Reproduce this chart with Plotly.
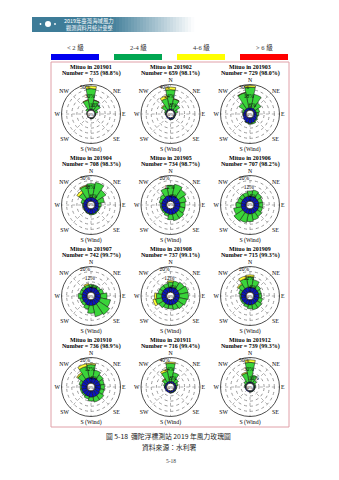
import plotly.graph_objects as go

W, H = 339, 480

# ---------------- data ----------------
dir_theta = [0, 22.5, 45, 67.5, 90, 112.5, 135, 157.5, 180, 202.5, 225, 247.5, 270, 292.5, 315, 337.5]
dir_names = ["N", "NNE", "NE", "ENE", "E", "ESE", "SE", "SSE", "S", "SSW", "SW", "WSW", "W", "WNW", "NW", "NNW"]
compass_ticks = ["N", "NE", "E", "SE", "S (Wind)", "SW", "W", "NW"]

months = ["201901", "201902", "201903", "201904", "201905", "201906",
          "201907", "201908", "201909", "201910", "201911", "201912"]
counts = [735, 659, 729, 708, 734, 707, 742, 737, 715, 736, 716, 739]
valid_pct = [98.8, 98.1, 98.0, 98.3, 98.7, 98.2, 99.7, 99.1, 99.3, 98.9, 99.4, 99.3]
radial_max = [50, 40, 30, 30, 20, 20, 20, 20, 20, 20, 40, 50]
calm_pct = [0, 0, 0, 0, 0, 0, 0, 0, 0, 0, 0, 0]

class_names = ["< 2 級", "2-4 級", "4-6 級", "> 6 級"]
legend_colors = ["#0000f0", "#00a651", "#ffff00", "#ff0000"]
rose_colors = ["#0a14c0", "#3ad43a", "#ffff33", "#ff0000"]

# frequency (%) per direction (N, NNE, ... NNW) for each month
speed_lt2 = [
    [2, 2, 1.5, 1, 1, 1, 1, 1.5, 1.5, 1, 0.5, 0.5, 0.5, 0.5, 1, 2],
    [2, 2, 1.5, 1.5, 1.5, 1.5, 2, 2.5, 2.5, 2, 1.5, 1.5, 1.5, 1.5, 2, 2],
    [3, 3, 3, 3, 3.5, 4, 5, 6, 6.5, 6, 5, 4, 3.5, 3, 3, 3],
    [4.5, 4.5, 4.5, 4.5, 4.5, 5, 5.5, 6, 6, 5.5, 5, 4.5, 4.5, 4.5, 4.5, 4.5],
    [4.5, 4.5, 4.5, 4.5, 4.5, 4.5, 4.5, 4.5, 4.5, 4, 4, 4, 4, 4, 4, 4.5],
    [4, 4, 4, 4, 4, 4, 4, 4, 4, 4, 4, 4, 4, 4, 4, 4],
    [4, 4, 4, 4, 4.5, 4.5, 4.5, 4.5, 4.5, 4.5, 4, 4, 4, 4, 4, 4],
    [4, 4, 4, 4, 4, 4, 4, 4, 4, 4, 4, 4, 4, 4, 4, 4],
    [4, 4, 4, 4, 4, 4, 4, 4, 4, 4, 4, 4, 4, 4, 4, 4],
    [4.5, 4.5, 4.5, 4.5, 4.5, 4.5, 5, 5, 5, 4.5, 4.5, 4.5, 4.5, 4.5, 4.5, 4.5],
    [3, 3, 3, 3, 3, 3, 3, 3, 3, 3, 3, 3, 3, 3, 3, 3],
    [2.5, 2.5, 2.5, 2, 2, 2, 2, 2, 2, 2, 2, 2, 2, 2, 2, 2.5],
]
speed_2to4 = [
    [40, 18, 13, 5, 1, 0.5, 0.5, 0.5, 0.5, 0, 0, 0, 0, 0.5, 4, 18],
    [30, 16, 10, 4, 1, 0.5, 0.5, 0.5, 0.5, 0, 0, 0, 0.5, 2, 8, 17],
    [24, 16, 8, 4, 2, 1, 1, 1.5, 1, 0.5, 0, 0, 0.5, 2, 8, 18],
    [16, 18, 12, 7, 3, 1.5, 1, 1, 1, 0.5, 0.5, 0.5, 1, 3, 8, 14],
    [8, 9, 7, 5, 4, 4, 5, 5, 4, 2, 1, 1, 1, 2, 3, 6],
    [4, 5, 4, 3, 3, 3, 4, 5, 6, 7, 8, 6, 4, 3, 3, 3],
    [2, 2, 2, 3, 5, 8, 10, 9, 6, 3, 2, 2, 3, 2, 2, 2],
    [4, 5, 6, 7, 7, 6, 5, 4, 3, 3, 4, 5, 4, 3, 3, 3],
    [8, 6, 3, 2, 2, 3, 4, 4, 3, 2, 1, 1, 1, 2, 4, 7],
    [10, 6, 4, 3, 3, 3, 4, 4, 3, 2, 1, 1, 1, 2, 5, 9],
    [28, 14, 6, 3, 1, 0.5, 0.5, 0.5, 0.5, 0, 0, 0, 0.5, 2, 6, 16],
    [38, 14, 6, 2, 1, 0.5, 0.5, 0.5, 0.5, 0, 0, 0, 0.5, 1.5, 5, 18],
]
speed_4to6 = [
    [5, 0.5, 0, 0, 0, 0, 0, 0, 0, 0, 0, 0, 0, 0, 0, 1],
    [4, 0.5, 0, 0, 0, 0, 0, 0, 0, 0, 0, 0, 0, 0, 1.5, 4],
    [2, 0, 0, 0, 0, 0, 0, 0, 0, 0, 0, 0, 0, 0, 0, 0.5],
    [0, 0, 0, 0, 0, 0, 0, 0, 0, 0, 0, 0, 0, 0, 3, 1],
    [0, 0, 0, 0, 0, 0, 0, 0, 0, 0, 0, 0, 0, 0, 0, 0],
    [0, 0, 0, 0, 0, 0, 0, 0, 0, 0, 0, 0, 0, 0, 0, 0],
    [0, 0, 0, 0, 0, 0, 0, 0, 0, 0, 0, 0, 0, 0, 0, 1],
    [1, 0, 0, 0, 0, 0, 0, 0, 0, 0, 0, 2, 1.5, 0, 0, 0],
    [1.5, 0, 0, 0, 0, 0, 0, 0, 0, 0, 0, 0, 0, 0, 1, 2],
    [1, 0, 0, 0, 0, 0, 0, 0, 0, 0, 0, 0, 0, 0, 1, 2],
    [2, 0, 0, 0, 0, 0, 0, 0, 0, 0, 0, 0, 0, 0, 1, 3],
    [5, 0, 0, 0, 0, 0, 0, 0, 0, 0, 0, 0, 0, 0, 0, 2],
]
speed_gt6 = [[0] * 16 for _ in range(12)]

speed_classes = [speed_lt2, speed_2to4, speed_4to6, speed_gt6]

station_name = "Mituo"
caption = "圖 5-18  彌陀浮標測站 2019 年風力玫瑰圖"
source = "資料來源：水利署"
page_no = "5-18"
banner_lines = ["2019年臺灣海域風力", "觀測資料月統計彙整"]

# ---------------- layout helpers ----------------
def px(x):
    return x / W


def py(y):
    return 1 - y / H


SERIF = "Liberation Serif, Noto Sans CJK TC, serif"
CJK = "Noto Sans CJK TC, sans-serif"

col_cx = [91, 170.5, 250]
row_cy = [114, 205, 296, 387]
R = 29.5
HOLE = 0.13
RAD_ANGLE = 118

fig = go.Figure()
shapes = []
annotations = []


def note(x, y, text, size, color="black", family=SERIF, xanchor="center"):
    annotations.append(dict(x=px(x), y=py(y), xref="paper", yref="paper",
                            xanchor=xanchor, yanchor="middle", text=text, showarrow=False,
                            font=dict(family=family, size=size, color=color)))


for i, m in enumerate(months):
    r_i, c_i = divmod(i, 3)
    cx, cy = col_cx[c_i], row_cy[r_i]
    pname = "polar" if i == 0 else f"polar{i + 1}"
    for k, cls in enumerate(speed_classes):
        vals = cls[i]
        if not any(v > 0 for v in vals):
            continue
        fig.add_trace(go.Barpolar(
            r=vals, theta=dir_theta, width=[22.5] * 16,
            marker=dict(color=rose_colors[k], line=dict(color="#111111", width=0.5)),
            name=class_names[k], subplot=pname, showlegend=False, hoverinfo="skip"))
    rmax = radial_max[i]
    step = rmax / 5
    tv = [step * j for j in range(1, 6)]
    tt = [f"{int(round(v))}%" if j % 2 == 0 else "" for j, v in enumerate(tv)]
    fig.layout[pname] = dict(
        domain=dict(x=[px(cx - R), px(cx + R)], y=[py(cy + R), py(cy - R)]),
        bgcolor="white",
        hole=HOLE,
        barmode="stack",
        radialaxis=dict(range=[0, rmax], tickvals=tv, ticktext=tt, showline=False,
                        ticks="", angle=RAD_ANGLE, tickangle=RAD_ANGLE,
                        tickfont=dict(family=SERIF, size=5.5, color="black"),
                        gridcolor="#9a9a9a", griddash="dot", gridwidth=0.6),
        angularaxis=dict(rotation=90, direction="clockwise", tickmode="array",
                         tickvals=[0, 45, 90, 135, 180, 225, 270, 315],
                         ticktext=compass_ticks, ticks="",
                         tickfont=dict(family=SERIF, size=5.8, color="black"),
                         showline=True, linecolor="#222222", linewidth=0.8,
                         gridcolor="#b0b0b0", griddash="dot", gridwidth=0.5),
    )
    # calm circle
    hr = R * HOLE
    shapes.append(dict(type="circle", xref="paper", yref="paper",
                       x0=px(cx - hr), x1=px(cx + hr), y0=py(cy + hr), y1=py(cy - hr),
                       line=dict(color="#111111", width=0.7), fillcolor="white", layer="above"))
    note(cx, cy, f"{calm_pct[i]}%", 4.5)
    note(cx, cy - 47.3, f"<b>{station_name} in {m}</b>", 6)
    note(cx, cy - 41, f"<b>Number = {counts[i]} ({valid_pct[i]:.1f}%)</b>", 6)

# frame
shapes.append(dict(type="rect", xref="paper", yref="paper",
                   x0=px(51), x1=px(289), y0=py(427), y1=py(62),
                   line=dict(color="#e0a0a8", width=1), layer="below"))

# legend bars and labels
bar_x = [(51, 99), (114, 162), (177, 225), (240, 288)]
for k, (x0, x1) in enumerate(bar_x):
    shapes.append(dict(type="rect", xref="paper", yref="paper",
                       x0=px(x0), x1=px(x1), y0=py(60), y1=py(54),
                       line=dict(width=0), fillcolor=legend_colors[k]))
    note((x0 + x1) / 2, 47.5, class_names[k], 6.5, color="#333333")

# banner with stepped gradient
b_left, b_solid, b_right = 32, 110, 194
shapes.append(dict(type="rect", xref="paper", yref="paper",
                   x0=px(b_left), x1=px(b_solid), y0=py(32), y1=py(17),
                   line=dict(width=0), fillcolor="rgb(62,124,152)"))
nsteps = 28
c0 = (62, 124, 152)
for s in range(nsteps):
    t = (s + 0.5) / nsteps
    col = tuple(int(c0[j] + (255 - c0[j]) * t) for j in range(3))
    xa = b_solid + (b_right - b_solid) * s / nsteps
    xb = b_solid + (b_right - b_solid) * (s + 1) / nsteps + 0.3
    shapes.append(dict(type="rect", xref="paper", yref="paper",
                       x0=px(xa), x1=px(xb), y0=py(32), y1=py(17),
                       line=dict(width=0), fillcolor=f"rgb{col}"))
# banner icon
shapes.append(dict(type="circle", xref="paper", yref="paper",
                   x0=px(45), x1=px(51), y0=py(27), y1=py(21),
                   line=dict(width=0), fillcolor="white"))
for dx in (40.5, 55):
    shapes.append(dict(type="circle", xref="paper", yref="paper",
                       x0=px(dx - 0.9), x1=px(dx + 0.9), y0=py(24.9), y1=py(23.1),
                       line=dict(width=0), fillcolor="white"))
note(62, 20.8, banner_lines[0], 5.4, color="white", family=CJK, xanchor="left")
note(64, 27.6, banner_lines[1], 5.2, color="white", family=CJK, xanchor="left")

# caption
note(168, 436, caption, 6.8, color="#222222", family=CJK)
note(169, 447, source, 6.8, color="#222222", family=CJK)
note(171, 461, page_no, 5.5, color="#444444")

fig.update_layout(width=W, height=H, margin=dict(l=0, r=0, t=0, b=0),
                  paper_bgcolor="white", plot_bgcolor="white",
                  shapes=shapes, annotations=annotations, showlegend=False)

fig.write_html("out.html", config={"displayModeBar": False})
